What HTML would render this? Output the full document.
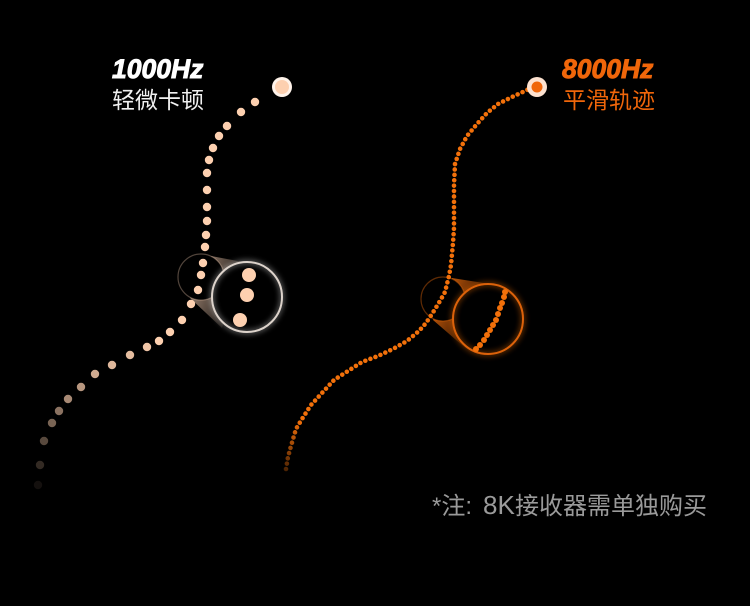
<!DOCTYPE html>
<html><head><meta charset="utf-8"><style>
html,body{margin:0;padding:0;background:#000;width:750px;height:606px;overflow:hidden}
svg{display:block}
text{font-family:"Liberation Sans","Noto Sans CJK SC",sans-serif}
</style></head><body>
<svg width="750" height="606" viewBox="0 0 750 606" xmlns="http://www.w3.org/2000/svg">
<defs>
<linearGradient id="fadeO" gradientUnits="userSpaceOnUse" x1="286" y1="472" x2="300" y2="420"><stop offset="0" stop-color="#f2700a" stop-opacity=".3"/><stop offset="1" stop-color="#f2700a"/></linearGradient>
<linearGradient id="coneL" gradientUnits="userSpaceOnUse" x1="205" y1="277" x2="240" y2="290"><stop offset="0" stop-color="#fdd4b8" stop-opacity=".5"/><stop offset="1" stop-color="#fdd4b8" stop-opacity=".05"/></linearGradient>
<linearGradient id="coneO" gradientUnits="userSpaceOnUse" x1="445" y1="295" x2="485" y2="315"><stop offset="0" stop-color="#ec6a0a" stop-opacity=".75"/><stop offset="1" stop-color="#ec6a0a" stop-opacity=".05"/></linearGradient>
<filter id="g" x="-40%" y="-40%" width="180%" height="180%"><feGaussianBlur stdDeviation="3"/></filter>
</defs>
<rect width="750" height="606" fill="#000"/>

<!-- left lens base -->
<path d="M211,256 L243,262 L222,328 L190,298 Z" fill="url(#coneL)"/>
<circle cx="201" cy="277" r="23" fill="#000" stroke="#fdd4b8" stroke-opacity=".32" stroke-width="1.2"/>

<!-- right lens base -->
<path d="M452,278 L490,284 L470,352 L433,320 Z" fill="url(#coneO)"/>
<circle cx="443" cy="299" r="22" fill="#000" stroke="#ec6a0a" stroke-opacity=".4" stroke-width="1.2"/>

<!-- left dots -->
<g fill="#fdd0b0">
<circle cx="255" cy="102" r="4.2"/><circle cx="241" cy="112" r="4.2"/><circle cx="227" cy="126" r="4.2"/><circle cx="219" cy="136" r="4.2"/><circle cx="213" cy="148" r="4.2"/><circle cx="209" cy="160" r="4.2"/><circle cx="207" cy="173" r="4.2"/><circle cx="207" cy="190" r="4.2"/><circle cx="207" cy="207" r="4.2"/><circle cx="207" cy="221" r="4.2"/><circle cx="206" cy="235" r="4.2"/><circle cx="205" cy="247" r="4.2"/><circle cx="203" cy="263" r="4.2"/><circle cx="201" cy="275" r="4.2"/><circle cx="198" cy="290" r="4.2"/><circle cx="191" cy="304" r="4.2"/><circle cx="182" cy="320" r="4.2"/><circle cx="170" cy="332" r="4.2"/><circle cx="159" cy="341" r="4.2"/>
<circle cx="147" cy="347" r="4.2" opacity=".95"/><circle cx="130" cy="355" r="4.2" opacity=".9"/><circle cx="112" cy="365" r="4.2" opacity=".88"/><circle cx="95" cy="374" r="4.2" opacity=".82"/><circle cx="81" cy="387" r="4.2" opacity=".72"/><circle cx="68" cy="399" r="4.2" opacity=".66"/><circle cx="59" cy="411" r="4.2" opacity=".55"/><circle cx="52" cy="423" r="4.2" opacity=".48"/><circle cx="44" cy="441" r="4.2" opacity=".35"/><circle cx="40" cy="465" r="4.2" opacity=".2"/><circle cx="38" cy="485" r="4.2" opacity=".08"/>
</g>
<circle cx="282" cy="87" r="10" fill="#fff3ea"/><circle cx="282" cy="87" r="7" fill="#fdd0b0"/>

<!-- right dots -->
<polyline fill="none" stroke="url(#fadeO)" stroke-width="4.6" stroke-linecap="round" stroke-dasharray="0 5.4" points="286,469 288,457 291,446 296,429 302,419 311,405 322,393 334,380 348,371 362,362 378,356 393,349 407,341 419,331 426,323 432,314 440,301 445,292 449,276 451,265 453,243 454,228 454,207 454,185 455,164 460,149 467,136 477,124 487,113 498,104 512,97 525,91 531,88"/>
<circle cx="537" cy="87" r="10" fill="#fde2d0"/><circle cx="537" cy="87" r="5.5" fill="#f0660a"/>

<!-- left lens -->
<circle cx="247" cy="297" r="35" fill="#000"/>
<circle cx="247" cy="297" r="35" fill="none" stroke="#fff" stroke-opacity=".55" stroke-width="3" filter="url(#g)"/>
<circle cx="247" cy="297" r="35" fill="none" stroke="#ddd3cb" stroke-width="2"/>
<circle cx="249" cy="275" r="7" fill="#fdd0b0"/><circle cx="247" cy="295" r="7" fill="#fdd0b0"/><circle cx="240" cy="320" r="7" fill="#fdd0b0"/>

<!-- right lens -->
<circle cx="488" cy="319" r="35" fill="#000"/>
<circle cx="488" cy="319" r="35" fill="none" stroke="#ec6a0a" stroke-opacity=".65" stroke-width="3" filter="url(#g)"/>
<circle cx="488" cy="319" r="35" fill="none" stroke="#dc620a" stroke-width="2"/>
<g fill="#f2700a"><circle cx="505" cy="292" r="3"/><circle cx="504" cy="297" r="3"/><circle cx="502" cy="303" r="3"/><circle cx="500" cy="308" r="3"/><circle cx="498" cy="314" r="3"/><circle cx="496" cy="320" r="3"/><circle cx="493" cy="325" r="3"/><circle cx="490" cy="330" r="3"/><circle cx="487" cy="335" r="3"/><circle cx="484" cy="340" r="3"/><circle cx="480" cy="345" r="3"/><circle cx="476" cy="349" r="3"/></g>

<!-- text -->
<text x="112" y="78" font-size="26.5" font-weight="700" font-style="italic" fill="#fff" stroke="#fff" stroke-width=".9">1000Hz</text>
<text x="112" y="108" font-size="23" fill="#f0f0f0">轻微卡顿</text>
<text x="562" y="78" font-size="26.5" font-weight="700" font-style="italic" fill="#f0660a" stroke="#f0660a" stroke-width=".9">8000Hz</text>
<text x="563" y="108" font-size="23" fill="#f0660a">平滑轨迹</text>
<text y="514" font-size="24" fill="#9a9a9a"><tspan x="432">*注:</tspan><tspan x="483" font-size="26">8K</tspan><tspan x="515">接收器需单独购买</tspan></text>
</svg>
</body></html>
